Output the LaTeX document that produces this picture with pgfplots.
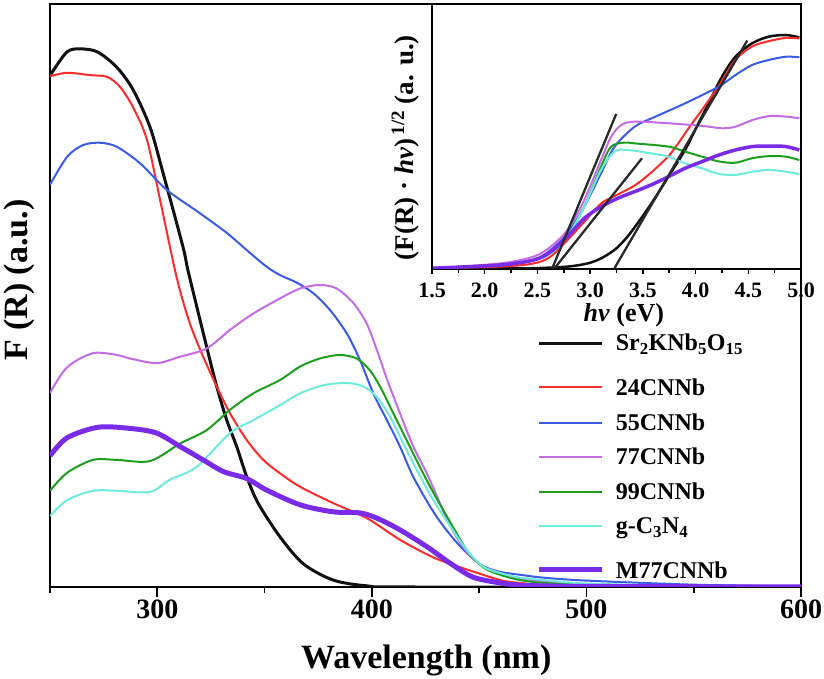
\documentclass[border=0pt]{standalone}
\usepackage{fontspec}
\setmainfont{Liberation Serif}
\usepackage{pgfplots}
\pgfplotsset{compat=1.18}
\pgfplotsset{shiftleg/.style={legend image code/.code={\draw[##1] (0pt,-4pt) -- (63pt,-4pt); \path (0pt,4pt);}}}
\definecolor{cblack}{HTML}{111111}
\definecolor{cred}{HTML}{FF2A2A}
\definecolor{cblue}{HTML}{3A5BE8}
\definecolor{cmag}{HTML}{C46BE6}
\definecolor{cgreen}{HTML}{1E9E1E}
\definecolor{ccyan}{HTML}{6FEBD9}
\definecolor{cpurp}{HTML}{7A2BE8}
\definecolor{ctan}{HTML}{2A2A2A}
\begin{document}
\begin{tikzpicture}
\path[use as bounding box] (-50pt,-92pt) rectangle (774pt,587pt);
\begin{axis}[
 at={(0pt,0pt)}, anchor=south west,
 scale only axis, width=751pt, height=583pt,
 xmin=250, xmax=600, ymin=0, ymax=1,
 xtick={300,400,500,600}, minor xtick={250,350,450,550},
 ytick=\empty,
 xtick pos=bottom, tick align=outside,
 major tick length=10pt, minor tick length=6pt,
 every tick/.style={black, line width=1.8pt},
 axis line style={line width=1.8pt},
 /pgf/number format/assume math mode=true,
 xticklabel style={font=\fontsize{28}{30}\selectfont\bfseries, inner sep=0pt, anchor=north, yshift=-3pt},
 xlabel={Wavelength (nm)}, ylabel={F (R) (a.u.)},
 label style={font=\fontsize{34}{38}\selectfont\bfseries},
 xlabel style={at={(axis description cs:0.501,-0.139)}, anchor=base, inner sep=0pt},
 ylabel style={at={(axis description cs:-0.020,0.527)}, anchor=south, inner sep=0pt},
 legend style={at={(0.648,0.436)}, anchor=north west, draw=none, fill=none, inner sep=0pt,
   font=\fontsize{24}{26}\selectfont\bfseries, row sep=14.5pt, column sep=10pt, nodes={inner sep=1pt}},
 legend cell align=left,
 legend image code/.code={\draw[#1] (0pt,0pt) -- (63pt,0pt);},
]
\addplot[cblack, line width=3pt, smooth] coordinates {
(250,0.875)(251,0.883)(258,0.918)(264,0.923)(272,0.918)(281,0.892)(288.7,0.853)(296.6,0.789)(302.7,0.710)(312,0.583)(314.5,0.540)(323,0.412)(327.7,0.344)(332.4,0.286)(337,0.241)(341.7,0.189)(347.1,0.143)(357.2,0.086)(368,0.040)(381.9,0.012)(397.7,0.002)(420,0.0)(600,0.0)};
\addlegendentry{Sr\textsubscript{2}KNb\textsubscript{5}O\textsubscript{15}}
\addplot[cred, line width=2pt, smooth, shiftleg] coordinates {
(250,0.876)(258,0.882)(268.6,0.878)(276.6,0.875)(282.6,0.858)(288.7,0.823)(295.2,0.767)(301.3,0.664)(309.1,0.530)(315.2,0.452)(321.4,0.395)(327.7,0.344)(333.9,0.298)(341.7,0.252)(349.4,0.218)(357.2,0.195)(366.5,0.172)(381.9,0.144)(397.7,0.118)(413.1,0.081)(428.5,0.051)(441.1,0.034)(459.7,0.012)(469,0.007)(480,0.004)(500,0.002)(550,0.001)(600,0.0)};
\addlegendentry{\rule{0pt}{27pt}24CNNb}
\addplot[cblue, line width=2pt, smooth] coordinates {
(250,0.690)(258,0.738)(265.4,0.758)(273.3,0.762)(281.2,0.755)(291.9,0.727)(304.5,0.681)(319.9,0.641)(332.5,0.607)(343.2,0.573)(351.1,0.549)(357.2,0.535)(365,0.522)(372.7,0.504)(380.5,0.475)(388.3,0.435)(394.5,0.389)(400.7,0.332)(406.9,0.287)(413.1,0.241)(419.3,0.189)(428.5,0.130)(436.4,0.090)(444.3,0.058)(451.8,0.036)(459.7,0.026)(469,0.021)(480,0.016)(500,0.011)(550,0.004)(600,0.001)};
\addlegendentry{55CNNb}
\addplot[cmag, line width=2pt, smooth] coordinates {
(250,0.333)(258,0.377)(270,0.401)(281.2,0.398)(287.3,0.392)(299.7,0.384)(310.6,0.395)(323,0.409)(333.9,0.441)(344.7,0.469)(357.2,0.495)(366.5,0.512)(375.8,0.518)(383.6,0.512)(391.4,0.487)(397.6,0.452)(402.3,0.407)(407.2,0.355)(413.1,0.298)(419.3,0.241)(425.6,0.195)(431,0.150)(436.4,0.105)(444.3,0.060)(451.8,0.035)(459.7,0.024)(469,0.015)(480,0.010)(500,0.005)(550,0.002)(600,0.001)};
\addlegendentry{77CNNb}
\addplot[cgreen, line width=2pt, smooth] coordinates {
(250,0.165)(258,0.196)(270,0.218)(281.2,0.218)(296.6,0.216)(310.6,0.246)(323,0.269)(333.9,0.304)(344.7,0.332)(357.2,0.355)(366.5,0.378)(375.8,0.392)(385.1,0.398)(392.9,0.392)(399,0.372)(403.8,0.344)(410,0.298)(416.2,0.252)(422.4,0.206)(428.5,0.163)(436.4,0.112)(444.3,0.063)(451.8,0.034)(459.7,0.021)(469,0.012)(480,0.007)(500,0.004)(550,0.001)(600,0.0)};
\addlegendentry{99CNNb}
\addplot[ccyan, line width=2pt, smooth] coordinates {
(250,0.122)(258,0.149)(270,0.165)(281.2,0.165)(296.6,0.163)(305.9,0.184)(318.3,0.206)(333.9,0.264)(344.7,0.286)(357.2,0.312)(366.5,0.332)(377.4,0.346)(388.3,0.350)(396,0.344)(402.3,0.326)(408.5,0.292)(414.7,0.246)(420.9,0.201)(428.5,0.150)(436.4,0.105)(444.3,0.063)(451.8,0.035)(459.7,0.024)(469,0.016)(480,0.012)(500,0.006)(550,0.002)(600,0.001)};
\addlegendentry{g-C\textsubscript{3}N\textsubscript{4}}
\addplot[cpurp, line width=5pt, smooth, shiftleg] coordinates {
(250,0.225)(258,0.256)(272.4,0.274)(287.3,0.272)(299.7,0.264)(310.6,0.241)(321.4,0.218)(330.8,0.198)(341.7,0.186)(351.1,0.166)(366.5,0.141)(381.9,0.129)(394.5,0.127)(402.4,0.118)(413.1,0.098)(425.7,0.069)(436.4,0.041)(447.1,0.017)(459.7,0.007)(469,0.003)(480,0.002)(500,0.001)(600,0.0)};
\addlegendentry{\rule{0pt}{27pt}M77CNNb}
\end{axis}
\begin{axis}[
 at={(382pt,318pt)}, anchor=south west,
 scale only axis, width=369pt, height=265pt,
 xmin=1.5, xmax=5.0, ymin=0, ymax=1,
 xtick={1.5,2.0,2.5,3.0,3.5,4.0,4.5,5.0},
 xticklabels={1.5,2.0,2.5,3.0,3.5,4.0,4.5,5.0},
 minor x tick num=1,
 ytick=\empty,
 xtick pos=bottom, tick align=outside,
 major tick length=5pt, minor tick length=4pt,
 every tick/.style={black, line width=1.5pt},
 axis line style={line width=1.8pt},
 axis background/.style={fill=white},
 xticklabel style={font=\fontsize{22}{24}\selectfont\bfseries, inner sep=0pt, anchor=north, yshift=-9pt},
 xlabel={\textit{hv} (eV)},
 ylabel={(F(R) · \textit{hv})\textsuperscript{\,1/2} (a. u.)},
 xlabel style={font=\fontsize{26}{30}\selectfont\bfseries, at={(axis description cs:0.520,-0.200)}, anchor=base, inner sep=0pt},
 ylabel style={font=\fontsize{27}{30}\selectfont\bfseries, at={(axis description cs:-0.035,0.458)}, anchor=south, inner sep=0pt},
]
\addplot[cblack, line width=2.5pt, smooth] coordinates {
(1.51,0.003)(2.2,0.003)(2.466,0.003)(2.785,0.009)(2.976,0.021)(3.103,0.040)(3.231,0.072)(3.326,0.109)(3.422,0.157)(3.582,0.248)(3.741,0.348)(3.900,0.449)(3.996,0.525)(4.123,0.625)(4.251,0.726)(4.378,0.801)(4.538,0.852)(4.697,0.877)(4.857,0.883)(4.984,0.874)};
\addplot[cred, line width=2pt, smooth] coordinates {
(1.51,0.003)(2.147,0.009)(2.466,0.021)(2.625,0.047)(2.785,0.109)(2.944,0.178)(3.103,0.247)(3.231,0.275)(3.422,0.315)(3.582,0.365)(3.741,0.425)(3.837,0.475)(3.932,0.530)(4.060,0.600)(4.219,0.690)(4.378,0.789)(4.538,0.840)(4.697,0.860)(4.857,0.872)(4.984,0.870)};
\addplot[cblue, line width=2pt, smooth] coordinates {
(1.51,0.003)(2.147,0.015)(2.466,0.034)(2.625,0.072)(2.785,0.135)(2.944,0.235)(3.103,0.361)(3.231,0.461)(3.422,0.537)(3.614,0.574)(3.900,0.625)(4.219,0.688)(4.378,0.732)(4.538,0.770)(4.697,0.789)(4.857,0.801)(4.984,0.799)};
\addplot[cmag, line width=2pt, smooth] coordinates {
(1.51,0.003)(2.147,0.021)(2.466,0.047)(2.625,0.084)(2.785,0.147)(2.944,0.260)(3.103,0.411)(3.199,0.499)(3.294,0.543)(3.422,0.556)(3.741,0.550)(4.060,0.540)(4.251,0.531)(4.378,0.537)(4.538,0.562)(4.697,0.577)(4.857,0.575)(4.984,0.569)};
\addplot[cgreen, line width=2pt, smooth] coordinates {
(1.51,0.003)(2.147,0.015)(2.466,0.034)(2.625,0.059)(2.785,0.122)(2.944,0.235)(3.103,0.386)(3.199,0.462)(3.326,0.477)(3.422,0.474)(3.741,0.462)(3.900,0.443)(4.060,0.424)(4.219,0.406)(4.378,0.401)(4.538,0.418)(4.697,0.426)(4.857,0.424)(4.984,0.411)};
\addplot[ccyan, line width=2pt, smooth] coordinates {
(1.51,0.003)(2.147,0.015)(2.466,0.034)(2.625,0.059)(2.785,0.122)(2.944,0.235)(3.103,0.374)(3.231,0.443)(3.358,0.449)(3.582,0.436)(3.741,0.424)(3.900,0.399)(4.060,0.380)(4.219,0.359)(4.378,0.355)(4.538,0.367)(4.697,0.374)(4.857,0.367)(4.984,0.358)};
\addplot[cpurp, line width=3.5pt, smooth] coordinates {
(1.51,0.003)(2.147,0.015)(2.466,0.034)(2.625,0.065)(2.785,0.122)(2.944,0.191)(3.103,0.235)(3.262,0.267)(3.422,0.292)(3.582,0.318)(3.741,0.348)(3.900,0.380)(4.060,0.405)(4.219,0.430)(4.378,0.449)(4.538,0.462)(4.697,0.464)(4.857,0.462)(4.984,0.449)};
\addplot[ctan, line width=2.3pt] coordinates {(2.641,0.003)(3.247,0.585)};
\addplot[ctan, line width=2.3pt] coordinates {(2.663,0.003)(3.492,0.418)};
\addplot[ctan, line width=2.3pt] coordinates {(3.231,0.003)(4.490,0.862)};
\end{axis}
\end{tikzpicture}
\end{document}
